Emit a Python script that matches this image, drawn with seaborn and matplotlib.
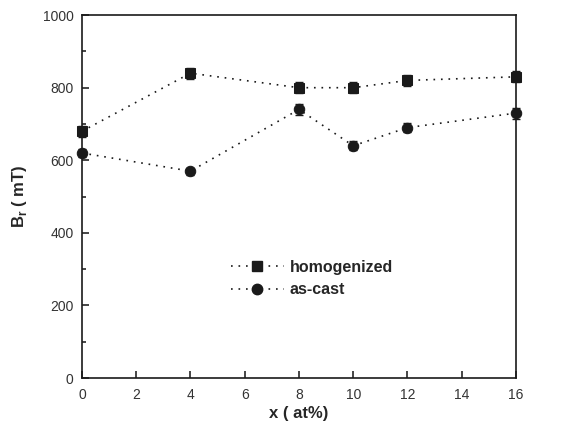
import numpy as np
import pandas as pd
import matplotlib
matplotlib.use("Agg")
import matplotlib.pyplot as plt
import seaborn as sns
from matplotlib.ticker import MultipleLocator
from matplotlib.lines import Line2D

x_at = [0, 4, 8, 10, 12, 16]
br_homogenized = [680, 840, 800, 800, 820, 830]
br_ascast = [620, 570, 740, 640, 690, 730]
err_homogenized = [15, 15, 15, 15, 15, 15]
err_ascast = [12, 10, 15, 12, 12, 15]

sns.set_style("ticks")
plt.rcParams['font.family'] = ['Liberation Sans', 'DejaVu Sans']

df = pd.DataFrame({
    "x": x_at * 2,
    "Br": br_homogenized + br_ascast,
    "state": ["homogenized"] * 6 + ["as-cast"] * 6,
})

fig = plt.figure(figsize=(5.71, 4.32), dpi=100)
ax = fig.add_axes([0.1436, 0.125, 0.760, 0.840])

dark = "#1a1a1a"
sns.lineplot(data=df, x="x", y="Br", hue="state", style="state",
             markers={"homogenized": "s", "as-cast": "o"},
             dashes={"homogenized": (1, 3.5), "as-cast": (1, 3.5)},
             palette={"homogenized": dark, "as-cast": dark},
             linewidth=1.2, markersize=7.5, markeredgecolor=dark,
             ax=ax, legend=False, clip_on=False)

ax.errorbar(x_at, br_homogenized, yerr=err_homogenized, fmt="none",
            ecolor=dark, elinewidth=1, capsize=3, clip_on=False)
ax.errorbar(x_at, br_ascast, yerr=err_ascast, fmt="none",
            ecolor=dark, elinewidth=1, capsize=3, clip_on=False)

handles = [
    Line2D([], [], color=dark, ls=(0, (1, 3.5)), lw=1.2, marker="s", markersize=7.5),
    Line2D([], [], color=dark, ls=(0, (1, 3.5)), lw=1.2, marker="o", markersize=7.5),
]
ax.legend(handles, ["homogenized", "as-cast"], loc="upper left",
          bbox_to_anchor=(0.31, 0.365), frameon=False, handlelength=3.3,
          handletextpad=0.4, labelspacing=0.45,
          prop={"weight": "bold", "size": 11.5})

ax.set_xlim(0, 16)
ax.set_ylim(0, 1000)
ax.xaxis.set_major_locator(MultipleLocator(2))
ax.yaxis.set_major_locator(MultipleLocator(200))
ax.yaxis.set_minor_locator(MultipleLocator(100))
ax.tick_params(axis="both", which="both", direction="in", top=False, right=False,
               labelsize=10, labelcolor="#333333", width=1.2)
ax.tick_params(axis="both", which="major", length=5)
ax.tick_params(axis="x", which="major", pad=7)
ax.tick_params(axis="y", which="major", pad=6)
ax.tick_params(axis="y", which="minor", length=3)
for sp in ax.spines.values():
    sp.set_linewidth(1.2)
    sp.set_color(dark)

ax.set_xlabel("x ( at%)", fontsize=12, fontweight="bold", labelpad=3)
ax.set_ylabel("B$_\\mathregular{r}$ ( mT)", fontsize=12, fontweight="bold", labelpad=10)

fig.savefig("out.png", dpi=100)
